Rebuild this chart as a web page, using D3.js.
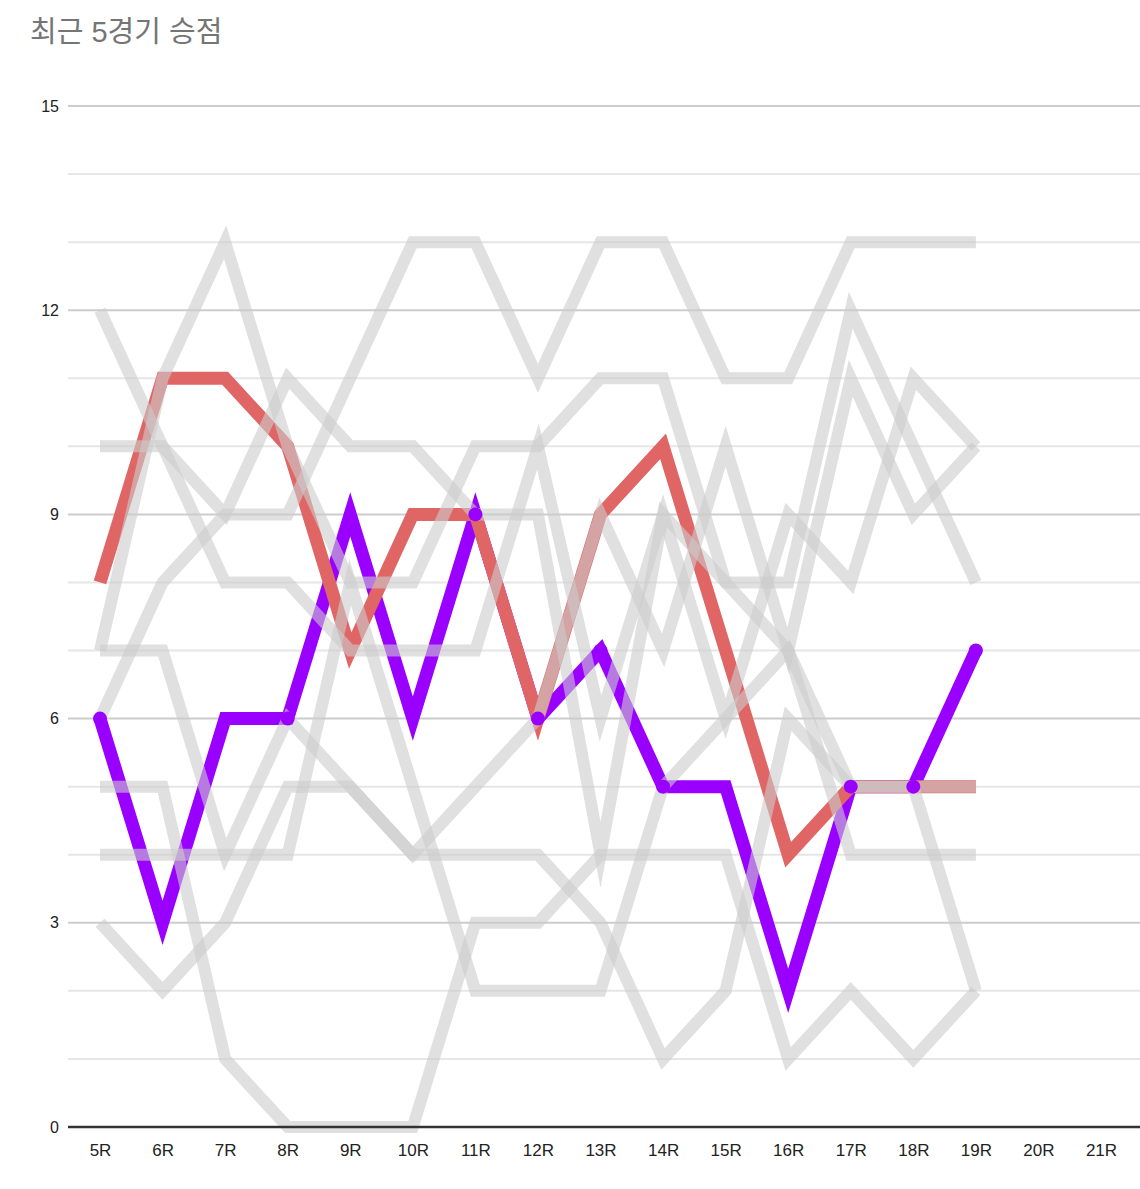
<!DOCTYPE html>
<html><head><meta charset="utf-8">
<script src="https://cdn.jsdelivr.net/npm/d3@7"></script>
<style>
body{margin:0;background:#fff;}
text{font-family:"Liberation Sans",Arial,"Noto Sans CJK KR",sans-serif;}
</style>
</head><body>
<svg id="chart" width="1140" height="1189"></svg>
<script>
const rounds = ["5R","6R","7R","8R","9R","10R","11R","12R","13R","14R","15R","16R","17R","18R","19R","20R","21R"];
const yTicks = [0,3,6,9,12,15];
const titleText = "최근 5경기 승점";

// values for 5R..19R
const redTeam    = [8,11,11,10,7,9,9,6,9,10,7,4,5,5,5];
const purpleTeam = [6,3,6,6,9,6,9,6,7,5,5,2,5,5,7];
const purpleMarkers = ["5R","8R","11R","12R","13R","14R","17R","18R","19R"];

const grayA = [6,8,9,9,11,13,13,11,13,13,11,11,13,13,13];
const grayB = [7,11,13,10,8,8,10,10,11,11,8,7,4,4,4];
const grayC = [5,5,1,0,0,0,3,3,4,4,4,1,2,1,2];
const grayD = [10,10,9,11,10,10,9,9,4,9,8,8,12,10,8];
const grayE = [7,7,4,6,5,4,5,6,9,7,10,7,11,9,10];
const grayF = [12,10,8,8,7,7,7,10,6,9,6,9,8,11,10];
const grayG = [4,4,4,4,8,5,2,2,2,5,6,7,5,5,5];
const grayH = [3,2,3,5,5,4,4,4,3,1,2,6,5,5,2];
const grayTeams = [grayA,grayB,grayC,grayD,grayE,grayF,grayG,grayH];

(function(){
const svg = d3.select("#chart");
const plotLeft = 68, plotRight = 1140, plotTop = 106, plotBottom = 1127;

const x = d3.scalePoint().domain(rounds).range([100, 1101]);
const y = d3.scaleLinear().domain([0,15]).range([plotBottom, plotTop]);

svg.append("text").attr("x", 30).attr("y", 42)
  .attr("font-size", 29).attr("fill", "#757575").text(titleText);

// gridlines
const minor = d3.range(1, 15).filter(v => v % 3 !== 0);
svg.append("g").selectAll("line").data(minor).join("line")
  .attr("x1", plotLeft).attr("x2", plotRight)
  .attr("y1", d => y(d)).attr("y2", d => y(d))
  .attr("stroke", "#e6e6e6").attr("stroke-width", 2);
svg.append("g").selectAll("line").data(yTicks.filter(v => v > 0)).join("line")
  .attr("x1", plotLeft).attr("x2", plotRight)
  .attr("y1", d => y(d)).attr("y2", d => y(d))
  .attr("stroke", "#cccccc").attr("stroke-width", 2);

// y labels
const yAxis = d3.axisLeft(y).tickValues(yTicks).tickSize(0).tickPadding(0);
const gy = svg.append("g").attr("transform", "translate(59,0)").call(yAxis);
gy.select(".domain").remove();
gy.selectAll("text").attr("font-size", 16).attr("fill", "#222")
  .style("font-family", '"Liberation Sans",Arial,sans-serif');

// x labels
const xAxis = d3.axisBottom(x).tickSize(0).tickPadding(0);
const gx = svg.append("g").attr("transform", "translate(0,1144)").call(xAxis);
gx.select(".domain").remove();
gx.selectAll("text").attr("font-size", 17).attr("fill", "#222")
  .style("font-family", '"Liberation Sans",Arial,sans-serif');

const line = d3.line().x((d,i) => x(rounds[i])).y(d => y(d));

// highlighted lines
svg.append("path").datum(purpleTeam).attr("d", line)
  .attr("fill", "none").attr("stroke", "#9900ff").attr("stroke-width", 13)
  .attr("stroke-linejoin", "miter").attr("stroke-miterlimit", 10);
svg.append("path").datum(redTeam).attr("d", line)
  .attr("fill", "none").attr("stroke", "#e06666").attr("stroke-width", 13)
  .attr("stroke-linejoin", "miter").attr("stroke-miterlimit", 10);

// gray lines on top
svg.append("g").selectAll("path").data(grayTeams).join("path")
  .attr("d", line).attr("fill", "none")
  .attr("stroke", "#cccccc").attr("stroke-opacity", 0.6)
  .attr("stroke-width", 12)
  .attr("stroke-linejoin", "miter").attr("stroke-miterlimit", 10);

// purple markers
svg.append("g").selectAll("circle")
  .data(purpleMarkers.map(r => ({r, v: purpleTeam[rounds.indexOf(r)]})))
  .join("circle")
  .attr("cx", d => x(d.r)).attr("cy", d => y(d.v)).attr("r", 7)
  .attr("fill", "#9900ff");

// baseline
svg.append("line").attr("x1", plotLeft).attr("x2", plotRight)
  .attr("y1", y(0)).attr("y2", y(0))
  .attr("stroke", "#333").attr("stroke-width", 2.5);
})();
</script>
</body></html>
